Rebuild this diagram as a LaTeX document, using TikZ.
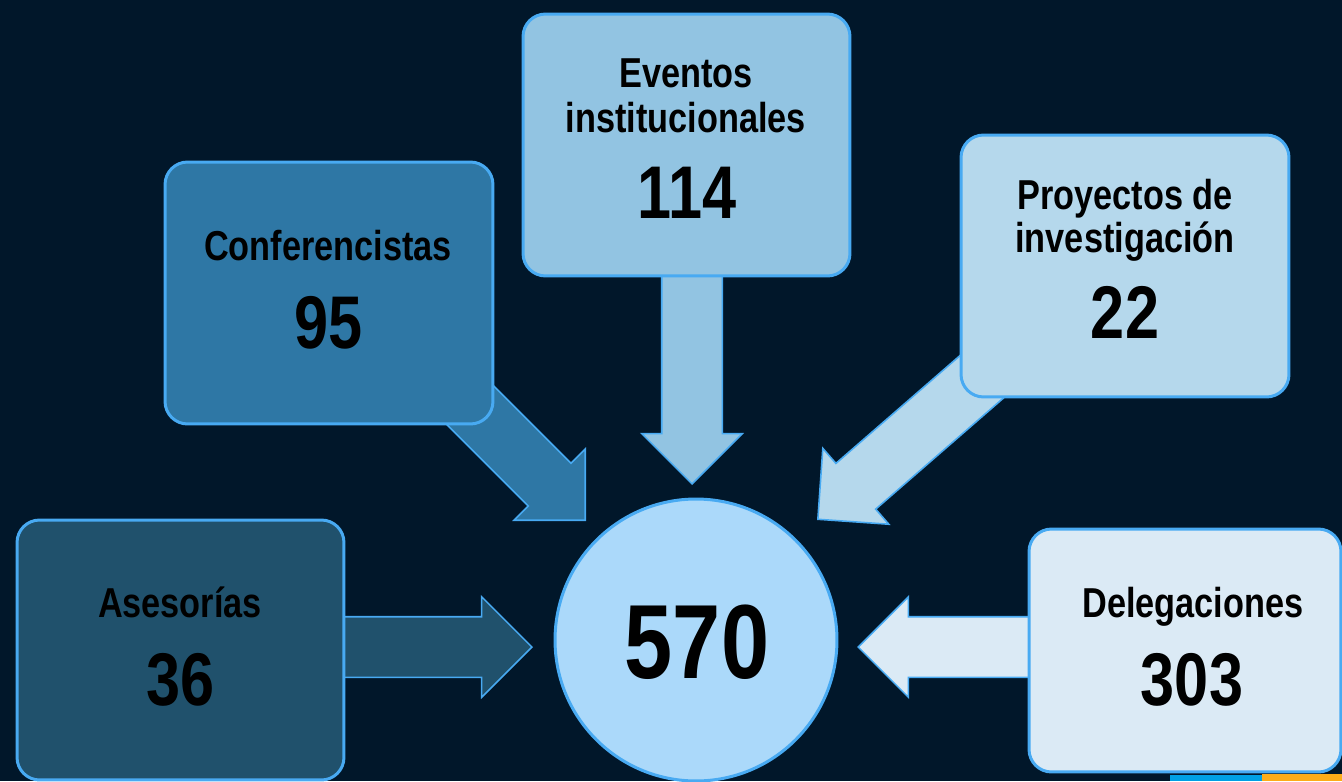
\documentclass[tikz,border=0pt]{standalone}
\usepackage{fontspec}
\setmainfont{Liberation Sans}[FakeStretch=0.82]
\usepackage{tikz}
\usetikzlibrary{shapes.arrows, positioning}
\usepackage{xcolor}

\definecolor{bgnavy}{RGB}{1,23,42}
\definecolor{edgeblue}{RGB}{72,170,242}
\definecolor{asesfill}{RGB}{32,81,108}
\definecolor{conffill}{RGB}{46,119,165}
\definecolor{eventfill}{RGB}{146,196,226}
\definecolor{proyfill}{RGB}{181,216,236}
\definecolor{delegfill}{RGB}{219,234,245}
\definecolor{totalfill}{RGB}{171,217,250}
\definecolor{stripcyan}{RGB}{0,160,228}
\definecolor{striporange}{RGB}{252,172,24}

\begin{document}
\begin{tikzpicture}[x=0.02cm, y=-0.02cm,
  card/.style={draw=edgeblue, line width=1.7pt, rounded corners=0.45cm,
    minimum width=6.56cm, minimum height=5.24cm, inner sep=0pt},
  flow/.style={single arrow, draw=edgeblue, line width=0.9pt, anchor=tip,
    inner xsep=0pt, inner ysep=0.59cm, single arrow head extend=0.4cm},
  lbl/.style={anchor=base, font=\fontsize{23.8}{26}\selectfont\bfseries},
  num/.style={anchor=base, font=\fontsize{42.5}{44}\selectfont\bfseries}]
  \fill[bgnavy] (0,0) rectangle (1342,781);
  \useasboundingbox (0,0) rectangle (1342,781);

  % Flow arrows (tails hidden under the cards)
  \node[flow, fill=asesfill, minimum height=4.06cm] (ases-arrow) at (533,647) {};
  \node[flow, fill=conffill, minimum height=4.7cm, rotate=-45] (conf-arrow) at (586,521) {};
  \node[flow, fill=eventfill, minimum height=4.5cm, rotate=-90] (event-arrow) at (692,485) {};
  \node[flow, fill=proyfill, minimum height=5.2cm, rotate=-139] (proy-arrow) at (817,520) {};
  \node[flow, fill=delegfill, minimum height=3.76cm, rotate=180] (deleg-arrow) at (857,647) {};

  % Picture cut off at the lower edge
  \fill[stripcyan] (1170,775) rectangle (1262,781);
  \fill[striporange] (1262,774) rectangle (1342,781);

  % Cards
  \node[card, fill=asesfill, minimum width=6.54cm, minimum height=5.2cm] (ases) at (180.5,650) {};
  \node[card, fill=conffill] (conf) at (329,293) {};
  \node[card, fill=eventfill, minimum width=6.54cm] (event) at (686.5,145) {};
  \node[card, fill=proyfill] (proy) at (1125,266) {};
  \node[card, fill=delegfill, minimum width=6.24cm, minimum height=4.86cm] (deleg) at (1185,650.5) {};
  \node[circle, draw=edgeblue, line width=1.7pt, fill=totalfill, minimum size=5.64cm, inner sep=0pt] (total) at (696,640) {};

  % Texts
  \node[lbl] (ases-lbl) at (180,617) {Asesorías};
  \node[num] (ases-num) at (180.5,705) {36};
  \node[lbl] (conf-lbl) at (328,260) {Conferencistas};
  \node[num] (conf-num) at (329,348) {95};
  \node[lbl] (event-lbl1) at (686,87) {Eventos};
  \node[lbl] (event-lbl2) at (686,132) {institucionales};
  \node[num] (event-num) at (687,218) {114};
  \node[lbl] (proy-lbl1) at (1125,209) {Proyectos de};
  \node[lbl] (proy-lbl2) at (1125,252) {investigación};
  \node[num] (proy-num) at (1125,338) {22};
  \node[lbl] (deleg-lbl) at (1193,617) {Delegaciones};
  \node[num] (deleg-num) at (1192,705) {303};
  \node[anchor=base, font=\fontsize{60}{62}\selectfont\bfseries] (total-num) at (697,678) {570};
\end{tikzpicture}
\end{document}
